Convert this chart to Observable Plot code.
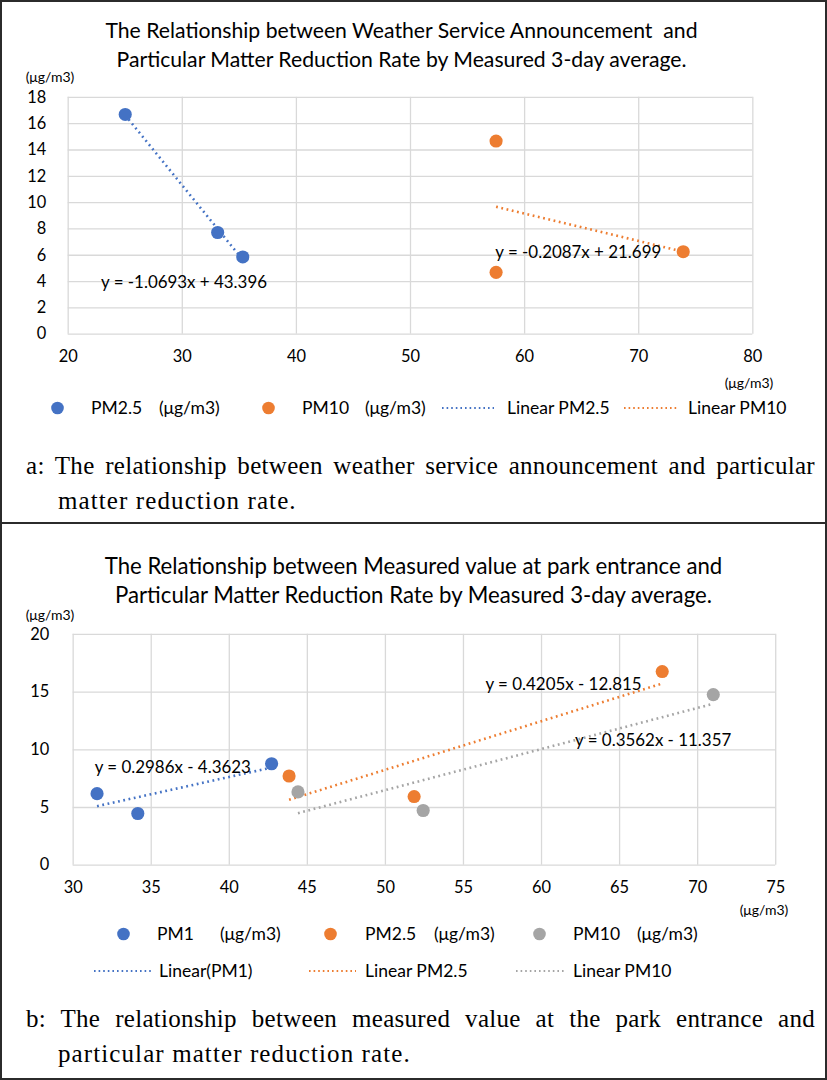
<!DOCTYPE html>
<html><head><meta charset="utf-8">
<script src="https://cdn.jsdelivr.net/npm/d3@7"></script>
<script src="https://cdn.jsdelivr.net/npm/@observablehq/plot@0.6"></script>
<style>
body{margin:0;background:#fff;}
#page{position:relative;width:827px;height:1080px;overflow:hidden;font-family:Lato,"Open Sans",sans-serif;color:#000;box-sizing:border-box;border:2px solid #2b2b2b;background:#fff;}
.sep{position:absolute;left:0;width:827px;height:2px;background:#2b2b2b;}
.abs{position:absolute;white-space:pre;}
.title{left:0;width:823px;text-align:center;line-height:29px;}
.unit{font-size:14px;line-height:16px;}
.leg{font-size:17.5px;line-height:22px;}
.cap{left:24px;width:789px;font-family:"Liberation Serif","DejaVu Serif",serif;font-size:25px;letter-spacing:1.1px;line-height:34px;white-space:nowrap;}
.just{text-align:justify;text-align-last:justify;letter-spacing:0.3px;}
svg.plotsvg{position:absolute;left:-2px;}
</style>
</head><body>
<div id="page"></div>
<script>
// ---------- data ----------
const colors = {blue:"#4472C4", orange:"#ED7D31", gray:"#A5A5A5"};

// Panel a: weather service announcement (x) vs reduction rate (y)
const aPM25x = [25.0, 33.1, 35.3];
const aPM25y = [16.7, 7.73, 5.87];
const aPM10x = [57.5, 57.5, 73.9];
const aPM10y = [14.68, 4.7, 6.27];
const aXTicks = [20, 30, 40, 50, 60, 70, 80];
const aYTicks = [0, 2, 4, 6, 8, 10, 12, 14, 16, 18];
const aEquations = ["y = -1.0693x + 43.396", "y = -0.2087x + 21.699"];

// Panel b: measured value at park entrance (x) vs reduction rate (y)
const bPM1x  = [31.53, 34.14, 42.71];
const bPM1y  = [6.2, 4.48, 8.79];
const bPM25x = [43.83, 51.84, 67.73];
const bPM25y = [7.73, 5.95, 16.78];
const bPM10x = [44.4, 52.42, 71.0];
const bPM10y = [6.35, 4.74, 14.78];
const bXTicks = [30, 35, 40, 45, 50, 55, 60, 65, 70, 75];
const bYTicks = [0, 5, 10, 15, 20];
const bEquations = ["y = 0.2986x - 4.3623", "y = 0.4205x - 12.815", "y = 0.3562x - 11.357"];

const titleA = ["The Relationship between Weather Service Announcement  and", "Particular Matter Reduction Rate by Measured 3-day average."];
const titleB = ["The Relationship between Measured value at park entrance and", "Particular Matter Reduction Rate by Measured 3-day average."];
const unit = "(μg/m3)";
const legendA = [
  {kind:"dot", color:"blue", name:"PM2.5", unit:"(μg/m3)"},
  {kind:"dot", color:"orange", name:"PM10", unit:"(μg/m3)"},
  {kind:"line", color:"blue", name:"Linear PM2.5"},
  {kind:"line", color:"orange", name:"Linear PM10"}
];
const legendB1 = [
  {kind:"dot", color:"blue", name:"PM1", unit:"(μg/m3)"},
  {kind:"dot", color:"orange", name:"PM2.5", unit:"(μg/m3)"},
  {kind:"dot", color:"gray", name:"PM10", unit:"(μg/m3)"}
];
const legendB2 = [
  {kind:"line", color:"blue", name:"Linear(PM1)"},
  {kind:"line", color:"orange", name:"Linear PM2.5"},
  {kind:"line", color:"gray", name:"Linear PM10"}
];
const captionA = ["a:  The relationship between weather service announcement and particular", "matter reduction rate."];
const captionB = ["b:  The relationship between measured value at the park entrance and", "particular matter reduction rate."];

// ---------- helpers ----------
const zip = (xs, ys) => xs.map((x, i) => ({x, y: ys[i]}));
const page = document.getElementById("page");
function addDiv(cls, text, style){
  const d = document.createElement("div");
  d.className = "abs " + cls;
  d.textContent = text;
  Object.assign(d.style, style);
  page.appendChild(d);
  return d;
}
const dash = "1.8 3.6";
function series(data, c){
  return [
    Plot.linearRegressionY(data, {x:"x", y:"y", ci:0, stroke:colors[c], strokeWidth:2.6, strokeDasharray:dash, strokeLinecap:"butt"}),
    Plot.dot(data, {x:"x", y:"y", r:6.6, fill:colors[c], stroke:"none"})
  ];
}
function swatch(item, x1, x2, top){
  const ns = "http://www.w3.org/2000/svg";
  const s = document.createElementNS(ns, "svg");
  const w = x2 - x1;
  s.setAttribute("width", w); s.setAttribute("height", 14);
  s.style.position = "absolute"; s.style.left = x1 + "px"; s.style.top = (top - 7) + "px";
  if (item.kind === "dot"){
    const c = document.createElementNS(ns, "circle");
    c.setAttribute("cx", w/2); c.setAttribute("cy", 7); c.setAttribute("r", 6.3);
    c.setAttribute("fill", colors[item.color]);
    s.appendChild(c);
  } else {
    const l = document.createElementNS(ns, "line");
    l.setAttribute("x1", 0); l.setAttribute("x2", w); l.setAttribute("y1", 7); l.setAttribute("y2", 7);
    l.setAttribute("stroke", colors[item.color]); l.setAttribute("stroke-width", 2);
    l.setAttribute("stroke-dasharray", "1.6 3");
    s.appendChild(l);
  }
  page.appendChild(s);
}
// layout: [swatch x1, swatch x2, name x, unit x]
function legendRow(items, layout, top){
  items.forEach((it, i) => {
    const [s1, s2, nx, ux] = layout[i];
    swatch(it, s1, s2, top);
    addDiv("leg", it.name, {left: nx + "px", top: (top - 11) + "px"});
    if (it.unit) addDiv("leg", it.unit, {left: ux + "px", top: (top - 11) + "px"});
  });
}
function centeredUnit(cx, cy){
  const d = addDiv("unit", unit, {left: cx + "px", top: cy + "px"});
  d.style.transform = "translate(-50%,-50%)";
}

// ---------- panel a ----------
titleA.forEach((t, i) => addDiv("title", t, {top: (14 + i*29) + "px", fontSize: "21.2px", left: "-12px"}));
centeredUnit(48, 75);

const plotA = Plot.plot({
  width: 827, height: 305,
  marginLeft: 68, marginRight: 71, marginTop: 27, marginBottom: 40,
  style: {fontFamily: "Lato, sans-serif", fontSize: "16.5px", color: "#000", background: "transparent", overflow: "visible"},
  x: {domain: [20, 80], ticks: aXTicks, tickSize: 0, tickPadding: 16, label: null},
  y: {domain: [0, 18], ticks: aYTicks, tickSize: 0, tickPadding: 22, label: null},
  marks: [
    Plot.gridX(aXTicks, {stroke: "#d9d9d9", strokeOpacity: 1, strokeWidth: 1.3}),
    Plot.gridY(aYTicks, {stroke: "#d9d9d9", strokeOpacity: 1, strokeWidth: 1.3}),
    ...series(zip(aPM25x, aPM25y), "blue"),
    ...series(zip(aPM10x, aPM10y), "orange"),
    Plot.text([aEquations[0]], {x: () => 22.88, y: () => 3.93, text: d => d, textAnchor: "start", fontSize: 17}),
    Plot.text([aEquations[1]], {x: () => 57.43, y: () => 6.19, text: d => d, textAnchor: "start", fontSize: 17})
  ]
});
plotA.classList.add("plotsvg");
plotA.style.top = "68px";
page.appendChild(plotA);
centeredUnit(747, 381);
legendRow(legendA, [[49, 62, 89, 157], [260, 273, 300, 363], [440, 492, 505], [622, 676, 686]], 406);
addDiv("cap just", captionA[0], {top: "447px"});
addDiv("cap", captionA[1], {left: "56px", top: "482px", width: "auto"});

// separator
const sep = document.createElement("div"); sep.className = "sep"; sep.style.top = "520px"; page.appendChild(sep);

// ---------- panel b ----------
titleB.forEach((t, i) => addDiv("title", t, {top: (549 + i*29) + "px", fontSize: "22.2px"}));
centeredUnit(48, 613);

const plotB = Plot.plot({
  width: 827, height: 301,
  marginLeft: 73, marginRight: 48, marginTop: 29, marginBottom: 40,
  style: {fontFamily: "Lato, sans-serif", fontSize: "16.5px", color: "#000", background: "transparent", overflow: "visible"},
  x: {domain: [30, 75], ticks: bXTicks, tickSize: 0, tickPadding: 16, label: null},
  y: {domain: [0, 20], ticks: bYTicks, tickSize: 0, tickPadding: 24, label: null},
  marks: [
    Plot.gridX(bXTicks, {stroke: "#d9d9d9", strokeOpacity: 1, strokeWidth: 1.3}),
    Plot.gridY(bYTicks, {stroke: "#d9d9d9", strokeOpacity: 1, strokeWidth: 1.3}),
    ...series(zip(bPM1x, bPM1y), "blue"),
    ...series(zip(bPM25x, bPM25y), "orange"),
    ...series(zip(bPM10x, bPM10y), "gray"),
    Plot.text([bEquations[0]], {x: () => 31.38, y: () => 8.42, text: d => d, textAnchor: "start", fontSize: 17}),
    Plot.text([bEquations[1]], {x: () => 56.41, y: () => 15.66, text: d => d, textAnchor: "start", fontSize: 17}),
    Plot.text([bEquations[2]], {x: () => 62.15, y: () => 10.84, text: d => d, textAnchor: "start", fontSize: 17})
  ]
});
plotB.classList.add("plotsvg");
plotB.style.top = "603px";
page.appendChild(plotB);
centeredUnit(762, 908);
legendRow(legendB1, [[115, 128, 155, 218], [322, 335, 363, 432], [531, 544, 571, 635]], 932);
legendRow(legendB2, [[92, 149, 157], [307, 354, 363], [514, 563, 571]], 969);
addDiv("cap just", captionB[0], {top: "1000px"});
addDiv("cap", captionB[1], {left: "56px", top: "1035px", width: "auto"});
</script>
</body></html>
